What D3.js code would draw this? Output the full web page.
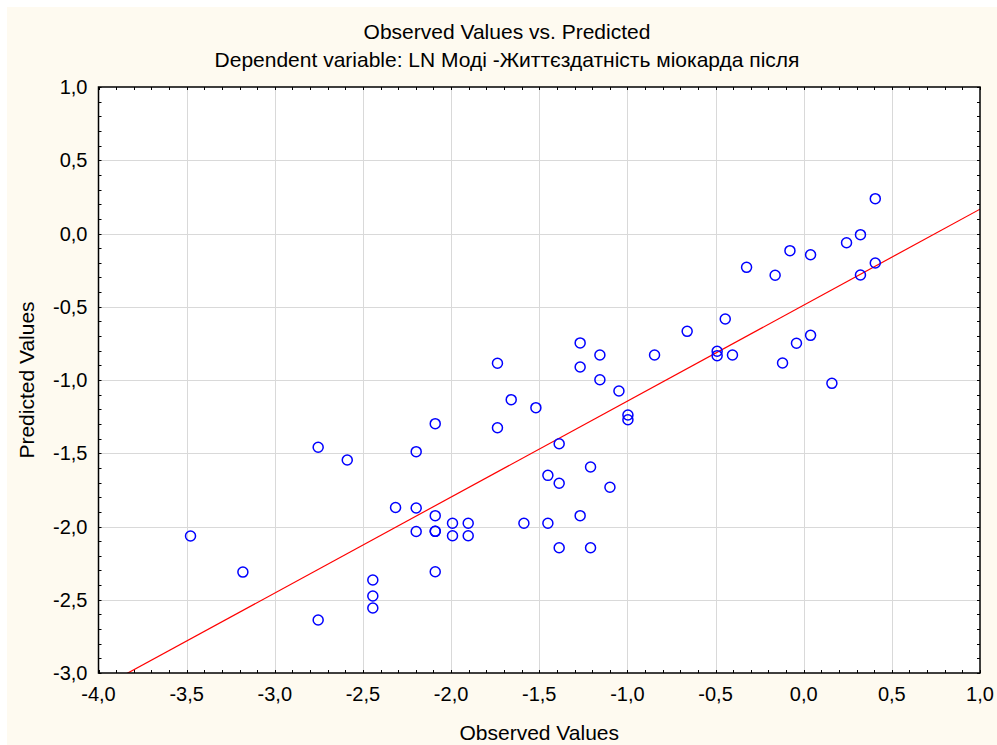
<!DOCTYPE html>
<html>
<head>
<meta charset="utf-8">
<script src="https://cdn.jsdelivr.net/npm/d3@7"></script>
<style>
	html, body { margin: 0; padding: 0; background: #fff; }
	svg text { font-family: Arial, "Liberation Sans", sans-serif; fill: #000; }
</style>
</head>
<body>
<svg id="chart" width="997" height="745"></svg>
<script>
var observed  = [
	  -3.478, -3.181, -2.754, -2.589, -2.754, -2.444, -2.444, -2.444, -2.315, -2.198
	, -2.198, -2.198, -2.090, -2.090, -2.090, -2.090, -2.090, -1.992, -1.992, -1.903
	, -1.903, -1.737, -1.737, -1.659, -1.587, -1.519, -1.451, -1.451, -1.387, -1.387
	, -1.387, -1.268, -1.268, -1.268, -1.209, -1.209, -1.156, -1.156, -1.099, -1.048
	, -0.997, -0.997, -0.846, -0.661, -0.491, -0.491, -0.445, -0.404, -0.324, -0.162
	, -0.120, -0.078, -0.041,  0.039,  0.039,  0.160,  0.243,  0.322,  0.322,  0.406
	,  0.406
];
var predicted = [
	  -2.065, -2.311, -1.459, -1.546, -2.638, -2.365, -2.474, -2.556, -1.870, -1.489
	, -1.874, -2.034, -1.298, -1.926, -2.033, -2.033, -2.309, -1.978, -2.063, -1.978
	, -2.063, -0.886, -1.326, -1.134, -1.978, -1.189, -1.651, -1.978, -1.435, -1.705
	, -2.145, -0.747, -0.911, -1.926, -1.594, -2.145, -0.829, -0.998, -1.732, -1.075
	, -1.239, -1.271, -0.829, -0.668, -0.804, -0.834, -0.584, -0.829, -0.231, -0.285
	, -0.884, -0.117, -0.749, -0.145, -0.695, -1.023, -0.063, -0.008, -0.283,  0.238
	, -0.201
];
// fitted line: intercept, slope
var fitLine    = [ -0.489, 0.655 ];
var xTicks     = [ -4.0, -3.5, -3.0, -2.5, -2.0, -1.5, -1.0, -0.5, 0.0, 0.5, 1.0 ];
var yTicks     = [ -3.0, -2.5, -2.0, -1.5, -1.0, -0.5, 0.0, 0.5, 1.0 ];
var titleText  = [ 'Observed Values vs. Predicted', 'Dependent variable: LN Моді -Життєздатність міокарда після' ];
var xTitle     = 'Observed Values';
var yTitle     = 'Predicted Values';

var W  = 997;
var H  = 745;
var pl = { left: 98.5, right: 980, top: 87, bottom: 673 }; // plot box
var fs = 20; // font size

var svg = d3.select( '#chart' );
var fmt = d => d.toFixed( 1 ).replace( '.', ',' );

svg.append( 'rect' )
	.attr( 'x', 7 ).attr( 'y', 7 )
	.attr( 'width', W - 7 ).attr( 'height', H - 7 )
	.attr( 'fill', '#fefaf0' );

var x = d3.scaleLinear().domain( [ -4, 1 ] ).range( [ pl.left, pl.right ] );
var y = d3.scaleLinear().domain( [ -3, 1 ] ).range( [ pl.bottom, pl.top ] );

svg.append( 'rect' )
	.attr( 'x', pl.left ).attr( 'y', pl.top )
	.attr( 'width', pl.right - pl.left ).attr( 'height', pl.bottom - pl.top )
	.attr( 'fill', '#fff' );

// grid
var grid = svg.append( 'g' ).attr( 'stroke', '#d9d9d9' ).attr( 'stroke-width', 1 );
grid.selectAll( '.gx' )
	.data( xTicks.slice( 1, -1 ) )
	.join( 'line' )
	.attr( 'x1', d => Math.round( x( d ) ) + 0.5 ).attr( 'x2', d => Math.round( x( d ) ) + 0.5 )
	.attr( 'y1', pl.top ).attr( 'y2', pl.bottom );
grid.selectAll( '.gy' )
	.data( yTicks.slice( 1, -1 ) )
	.join( 'line' )
	.attr( 'y1', d => Math.round( y( d ) ) + 0.5 ).attr( 'y2', d => Math.round( y( d ) ) + 0.5 )
	.attr( 'x1', pl.left ).attr( 'x2', pl.right );

// inward minor ticks on all four sides, every 0.1
var tx = d3.range( -40, 11 ).map( d => d / 10 );
var ty = d3.range( -30, 11 ).map( d => d / 10 );
var tk = svg.append( 'g' ).attr( 'stroke', '#000' ).attr( 'stroke-width', 1 );
tk.selectAll( null ).data( tx ).join( 'line' )
	.attr( 'x1', d => Math.round( x( d ) ) + 0.5 ).attr( 'x2', d => Math.round( x( d ) ) + 0.5 )
	.attr( 'y1', pl.bottom ).attr( 'y2', pl.bottom - 3 );
tk.selectAll( null ).data( tx ).join( 'line' )
	.attr( 'x1', d => Math.round( x( d ) ) + 0.5 ).attr( 'x2', d => Math.round( x( d ) ) + 0.5 )
	.attr( 'y1', pl.top ).attr( 'y2', pl.top + 3 );
tk.selectAll( null ).data( ty ).join( 'line' )
	.attr( 'y1', d => Math.round( y( d ) ) + 0.5 ).attr( 'y2', d => Math.round( y( d ) ) + 0.5 )
	.attr( 'x1', pl.left ).attr( 'x2', pl.left + 3 );
tk.selectAll( null ).data( ty ).join( 'line' )
	.attr( 'y1', d => Math.round( y( d ) ) + 0.5 ).attr( 'y2', d => Math.round( y( d ) ) + 0.5 )
	.attr( 'x1', pl.right ).attr( 'x2', pl.right - 3 );

// fitted line, clipped to the plot box
svg.append( 'clipPath' ).attr( 'id', 'clip' )
	.append( 'rect' )
	.attr( 'x', pl.left ).attr( 'y', pl.top )
	.attr( 'width', pl.right - pl.left ).attr( 'height', pl.bottom - pl.top );
svg.append( 'line' )
	.attr( 'clip-path', 'url(#clip)' )
	.attr( 'x1', x( -4 ) ).attr( 'y1', y( fitLine[ 0 ] + fitLine[ 1 ] * -4 ) )
	.attr( 'x2', x( 1 ) ).attr( 'y2', y( fitLine[ 0 ] + fitLine[ 1 ] * 1 ) )
	.attr( 'stroke', '#ff0000' ).attr( 'stroke-width', 1.2 );

// points
svg.append( 'g' )
	.selectAll( 'circle' )
	.data( observed.map( ( d, i ) => [ d, predicted[ i ] ] ) )
	.join( 'circle' )
	.attr( 'cx', d => x( d[ 0 ] ) )
	.attr( 'cy', d => y( d[ 1 ] ) )
	.attr( 'r', 5 )
	.attr( 'fill', 'none' )
	.attr( 'stroke', '#0000ff' )
	.attr( 'stroke-width', 1.5 );

// frame
svg.append( 'rect' )
	.attr( 'x', pl.left ).attr( 'y', pl.top )
	.attr( 'width', pl.right - pl.left ).attr( 'height', pl.bottom - pl.top )
	.attr( 'fill', 'none' ).attr( 'stroke', '#000' ).attr( 'stroke-width', 1.5 );

// tick labels
svg.append( 'g' ).selectAll( 'text' )
	.data( xTicks ).join( 'text' )
	.attr( 'x', d => x( d ) ).attr( 'y', pl.bottom + 28 )
	.attr( 'text-anchor', 'middle' )
	.attr( 'font-size', fs )
	.text( fmt );
svg.append( 'g' ).selectAll( 'text' )
	.data( yTicks ).join( 'text' )
	.attr( 'x', pl.left - 11 ).attr( 'y', d => y( d ) + 7 )
	.attr( 'text-anchor', 'end' )
	.attr( 'font-size', fs )
	.text( fmt );

// titles
svg.selectAll( '.title' )
	.data( titleText ).join( 'text' )
	.attr( 'x', 507 ).attr( 'y', ( d, i ) => 39 + i * 28 )
	.attr( 'text-anchor', 'middle' )
	.attr( 'font-size', 21 )
	.text( d => d );
svg.append( 'text' )
	.attr( 'x', ( pl.left + pl.right ) / 2 ).attr( 'y', 740 )
	.attr( 'text-anchor', 'middle' )
	.attr( 'font-size', 21 )
	.text( xTitle );
svg.append( 'text' )
	.attr( 'transform', 'translate(34,' + ( pl.top + pl.bottom ) / 2 + ') rotate(-90)' )
	.attr( 'text-anchor', 'middle' )
	.attr( 'font-size', 21 )
	.text( yTitle );
</script>
</body>
</html>
